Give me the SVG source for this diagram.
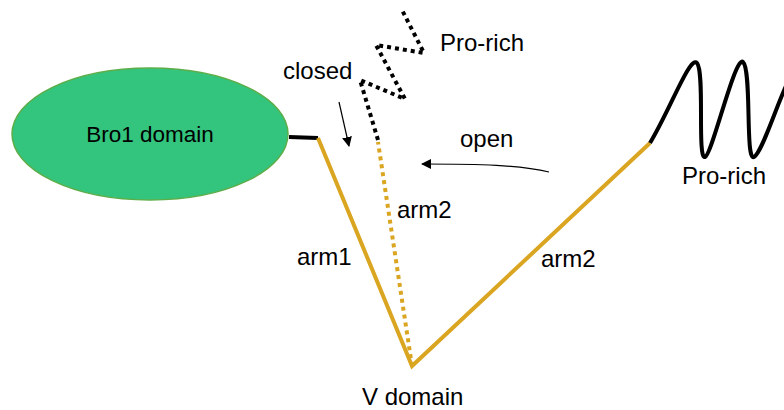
<svg xmlns="http://www.w3.org/2000/svg" width="784" height="410" viewBox="0 0 784 410">
<style>
text{font-family:"Liberation Sans",Arial,sans-serif;font-size:24px;fill:#000}
.gold{stroke:#DAA520;stroke-width:4;fill:none}
.blk{stroke:#000;stroke-width:4;fill:none}
.dot{stroke-dasharray:4 4}
</style>
<defs>
<marker id="ah" viewBox="0 0 10 10" refX="9" refY="5" markerWidth="10" markerHeight="10" markerUnits="userSpaceOnUse" orient="auto">
<path d="M0,0 L10,5 L0,10 z" fill="#000"/>
</marker>
</defs>
<g id="bro1">
<ellipse cx="150" cy="134" rx="138" ry="66" fill="#33C47D" stroke="#5DAE4A" stroke-width="1.5"/>
<text x="150" y="142" text-anchor="middle" style="font-size:22.5px">Bro1 domain</text>
</g>
<g id="connectors">
<polyline class="blk" points="289,137 318,138" stroke-linejoin="miter"/>
<polyline class="gold" points="318,138 412,366 650,143"/>
<path class="blk" d="M650,143 C670,110 690,55 697,63 C705,72 697,160 705,157 C712,155 735,55 743,62 C752,70 745,162 754,157 C762,152 775,110 786,86"/>
<polyline class="gold dot" points="412,366 378,142"/>
<polyline class="blk dot" points="378,140 360,80 405,99 376,45 424,53 401,8" stroke-linejoin="miter"/>
<line x1="339" y1="102" x2="349" y2="146" stroke="#000" stroke-width="1.2" marker-end="url(#ah)"/>
<path d="M549,172 C520,165 480,164 422,164" fill="none" stroke="#000" stroke-width="1.2" marker-end="url(#ah)"/>
</g>
<g id="labels">
<text x="440" y="51">Pro-rich</text>
<text x="283" y="79">closed</text>
<text x="460" y="147">open</text>
<text x="682" y="184">Pro-rich</text>
<text x="397" y="218">arm2</text>
<text x="297" y="265">arm1</text>
<text x="541" y="267">arm2</text>
<text x="362" y="405">V domain</text>
</g>
</svg>
